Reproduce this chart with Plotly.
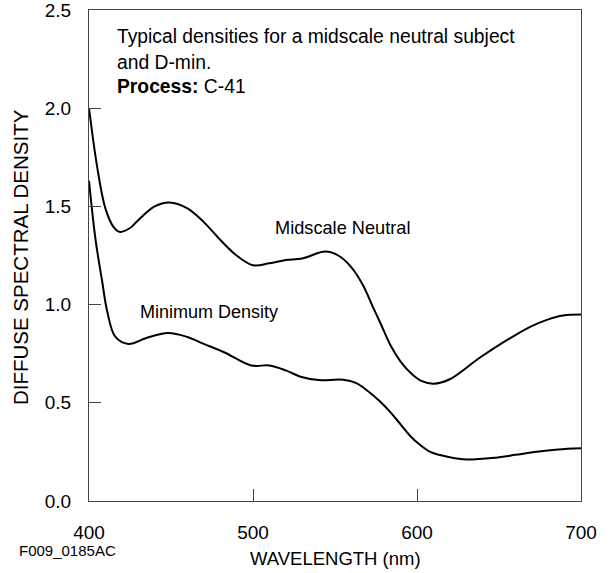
import plotly.graph_objects as go

# Data
wl_mid = [400, 405, 410, 415, 419, 425, 430, 440, 449, 460, 470, 480, 490, 500,
          510, 520, 530, 544, 552, 560, 567, 573, 578, 584, 590, 597, 603, 610,
          620, 638, 655, 669, 680, 689, 700]
d_mid = [2.00, 1.70, 1.49, 1.395, 1.37, 1.39, 1.43, 1.50, 1.52, 1.49, 1.42, 1.33,
         1.25, 1.20, 1.21, 1.227, 1.235, 1.27, 1.25, 1.19, 1.10, 0.99, 0.90, 0.79,
         0.71, 0.645, 0.61, 0.597, 0.62, 0.728, 0.82, 0.887, 0.925, 0.945, 0.95]

wl_min = [400, 404, 408, 411, 416, 424, 435, 448, 460, 470, 483, 499, 510, 520,
          529, 540, 555, 563, 570, 577, 584, 590, 596, 602, 608, 614, 628, 649,
          660, 673, 686, 700]
d_min = [1.63, 1.33, 1.12, 0.97, 0.837, 0.80, 0.83, 0.855, 0.835, 0.80, 0.755,
         0.69, 0.69, 0.665, 0.633, 0.616, 0.617, 0.60, 0.56, 0.51, 0.45, 0.39,
         0.33, 0.285, 0.25, 0.234, 0.212, 0.222, 0.235, 0.251, 0.262, 0.268]

x_ticks = [400, 500, 600, 700]
y_ticks = [0.0, 0.5, 1.0, 1.5, 2.0, 2.5]
y_tick_text = ["0.0", "0.5", "1.0", "1.5", "2.0", "2.5"]

FONT = "Liberation Sans, Arial, Helvetica, sans-serif"

fig = go.Figure()
fig.add_trace(go.Scatter(x=wl_mid, y=d_mid, mode="lines", name="Midscale Neutral",
                         line=dict(color="black", width=2, shape="spline", smoothing=1.0)))
fig.add_trace(go.Scatter(x=wl_min, y=d_min, mode="lines", name="Minimum Density",
                         line=dict(color="black", width=2, shape="spline", smoothing=1.0)))

fig.update_layout(
    width=610, height=573,
    margin=dict(l=89, r=29, t=10, b=72),
    paper_bgcolor="white", plot_bgcolor="white",
    showlegend=False,
    font=dict(family=FONT, size=19, color="black"),
    xaxis=dict(range=[400, 700], tickvals=x_ticks, ticktext=[str(v) for v in x_ticks],
               ticks="inside", ticklen=12, tickwidth=1, tickcolor="#444",
               showline=True, linecolor="#444", linewidth=1, mirror=True,
               showgrid=False, zeroline=False, ticklabelstandoff=14,
               ticklabeloverflow="allow", automargin=False,
               tickfont=dict(size=19, family=FONT, color="black")),
    yaxis=dict(range=[0, 2.5], tickvals=y_ticks, ticktext=y_tick_text,
               ticks="inside", ticklen=12, tickwidth=1, tickcolor="#444",
               showline=True, linecolor="#444", linewidth=1, mirror=True,
               showgrid=False, zeroline=False, ticklabelstandoff=13,
               ticklabeloverflow="allow", automargin=False,
               tickfont=dict(size=19, family=FONT, color="black")),
)

anns = [
    dict(x=416, y=2.367, xref="x", yref="y", text="Typical densities for a midscale neutral subject",
         xanchor="left", yanchor="middle", font=dict(size=19.3)),
    dict(x=416, y=2.235, xref="x", yref="y", text="and D-min.",
         xanchor="left", yanchor="middle", font=dict(size=19.3)),
    dict(x=416, y=2.108, xref="x", yref="y", text="<b>Process:</b> C-41",
         xanchor="left", yanchor="middle", font=dict(size=19.3)),
    dict(x=554.6, y=1.39, xref="x", yref="y", text="Midscale Neutral",
         xanchor="center", yanchor="middle", font=dict(size=18.2)),
    dict(x=473.2, y=0.964, xref="x", yref="y", text="Minimum Density",
         xanchor="center", yanchor="middle", font=dict(size=18)),
    dict(x=0.501, y=-0.118, xref="paper", yref="paper", text="WAVELENGTH (nm)",
         xanchor="center", yanchor="middle", font=dict(size=18.5)),
    dict(x=-0.1463, y=-0.1, xref="paper", yref="paper", text="F009_0185AC",
         xanchor="left", yanchor="middle", font=dict(size=15)),
    dict(x=-0.138, y=0.497, xref="paper", yref="paper", text="DIFFUSE SPECTRAL DENSITY",
         textangle=-90, xanchor="center", yanchor="middle", font=dict(size=20.5)),
]
for a in anns:
    a["showarrow"] = False
    a["font"]["family"] = FONT
    a["font"]["color"] = "black"
    fig.add_annotation(**a)

fig.write_html("out.html",
               config={"displayModeBar": False},
               post_script="document.body.style.margin='0';document.body.style.overflow='hidden';")
